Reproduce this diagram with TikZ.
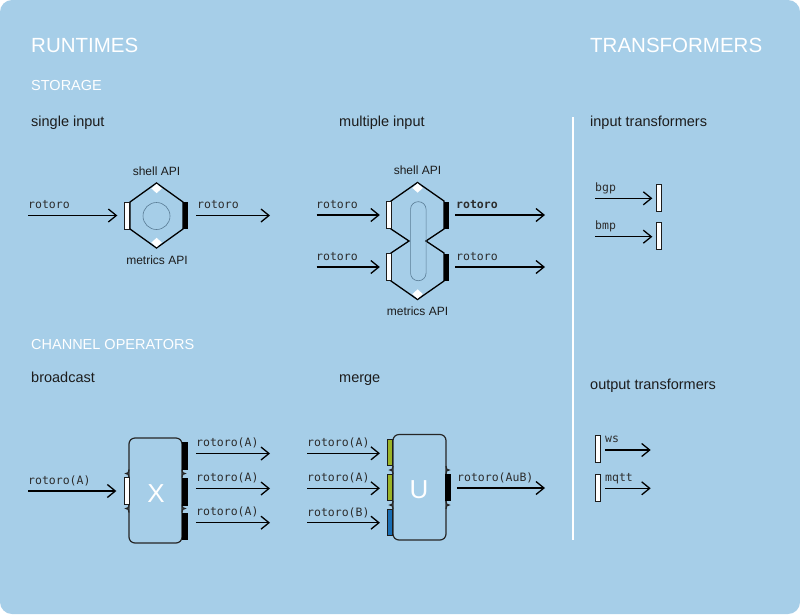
\documentclass[tikz,border=0pt]{standalone}
\usepackage{fontspec}
\setmainfont{Liberation Sans}
\setmonofont{DejaVu Sans Mono}
\usetikzlibrary{arrows.meta,shapes.geometric}
\definecolor{panel}{RGB}{166,206,232}
\definecolor{ink}{RGB}{28,28,28}
\definecolor{codeink}{RGB}{45,45,45}
\definecolor{ringline}{RGB}{90,125,150}
\definecolor{olive}{RGB}{155,180,40}
\definecolor{portblue}{RGB}{25,110,180}
\tikzset{
  arr/.style={line width=1.3pt, -{Straight Barb[length=8pt,width=13pt]}},
  inport/.style={draw=ink, fill=white, line width=0.7pt, inner sep=0pt, minimum width=5pt, minimum height=27pt},
  outport/.style={fill=black, inner sep=0pt, minimum width=5.5pt, minimum height=27pt},
  apiport/.style={diamond, fill=white, inner sep=0pt, minimum width=10.5pt, minimum height=9.5pt},
  bigtitle/.style={text=white, inner sep=0pt, anchor=base west, font=\fontsize{20.5}{24}\selectfont},
  grouptitle/.style={text=white, inner sep=0pt, anchor=base west, font=\fontsize{14.5}{17}\selectfont},
  kindtitle/.style={text=ink, inner sep=0pt, anchor=base west, font=\fontsize{14.5}{17}\selectfont},
  apitext/.style={text=ink, inner sep=0pt, anchor=base, font=\fontsize{12}{14}\selectfont},
  streamtext/.style={text=codeink, inner sep=0pt, anchor=base west, font=\ttfamily\fontsize{11.5}{13}\selectfont},
  opsign/.style={text=white, inner sep=0pt, anchor=base, font=\fontsize{26}{30}\selectfont},
  hexline/.style={draw=black, line width=1.3pt},
  opbox/.style={draw=black!85, line width=1.2pt},
}
\begin{document}
\begin{tikzpicture}[x=1pt,y=-1pt]
\useasboundingbox (0,0) rectangle (800,614);
\fill[white] (0,0) rectangle (800,614);
\fill[panel, rounded corners=12pt] (0,0) rectangle (800,614);
\draw[white, line width=2pt] (573,117) -- (573,540);

% headings
\node[bigtitle] (runtimes) at (31,52) {RUNTIMES};
\node[bigtitle] (transformers) at (590,52) {TRANSFORMERS};
\node[grouptitle] (storage) at (31,90) {STORAGE};
\node[grouptitle] (channelops) at (31,349) {CHANNEL OPERATORS};
\node[kindtitle] (single) at (31,126) {single input};
\node[kindtitle] (multiple) at (339,126) {multiple input};
\node[kindtitle] (inputtf) at (590,126) {input transformers};
\node[kindtitle] (broadcast) at (31,382) {broadcast};
\node[kindtitle] (merge) at (339,382) {merge};
\node[kindtitle] (outputtf) at (590,389) {output transformers};

% single input
\draw[hexline] (156.5,183) -- (183,202) -- (183,229) -- (156.5,248) -- (130,229) -- (130,202) -- cycle;
\node[circle, draw=ringline, line width=0.6pt, minimum size=27pt] (si-core) at (156.5,216) {};
\node[apiport] (si-shell) at (156.6,188.5) {};
\node[apiport] (si-metrics) at (156.6,242.5) {};
\node[apitext] (si-shelltext) at (156.5,175) {shell API};
\node[apitext] (si-metricstext) at (157,264) {metrics API};
\node[inport] (si-in) at (127.2,215.5) {};
\node[outport] (si-out) at (185.5,215.5) {};
\coordinate (si-src) at (28,215.5);
\coordinate (si-dst) at (270,215.5);
\path[arr, shorten >=7pt] (si-src) edge (si-in);
\path[arr, shorten <=8pt] (si-out) edge (si-dst);
\node[streamtext] (si-inlbl) at (28,208) {rotoro};
\node[streamtext] (si-outlbl) at (197,208) {rotoro};

% multiple input
\draw[hexline] (417.5,182.5) -- (444,201) -- (444,229) -- (426,241) -- (444,253) -- (444,281)
  -- (417.5,299.5) -- (391,281) -- (391,253) -- (409,241) -- (391,229) -- (391,201) -- cycle;
\node[draw=ringline, line width=0.6pt, rounded corners=7.5pt, minimum width=15.5pt, minimum height=79pt] (mi-core) at (418.3,241.2) {};
\node[apiport] (mi-shell) at (417.6,188) {};
\node[apiport] (mi-metrics) at (417.6,294) {};
\node[apitext] (mi-shelltext) at (417.5,174) {shell API};
\node[apitext] (mi-metricstext) at (417.5,315) {metrics API};
\node[inport] (mi-in1) at (388.7,215) {};
\node[inport] (mi-in2) at (388.7,267) {};
\node[outport] (mi-out1) at (446.7,215) {};
\node[outport] (mi-out2) at (446.7,267) {};
\coordinate (mi-src1) at (316.7,215);
\coordinate (mi-src2) at (316.7,267);
\coordinate (mi-dst1) at (545,215);
\coordinate (mi-dst2) at (545,267);
\path[arr, shorten >=6pt] (mi-src1) edge (mi-in1);
\path[arr, shorten >=6pt] (mi-src2) edge (mi-in2);
\path[arr, shorten <=5.7pt] (mi-out1) edge (mi-dst1);
\path[arr, shorten <=5.7pt] (mi-out2) edge (mi-dst2);
\node[streamtext] (mi-inlbl1) at (316,208) {rotoro};
\node[streamtext] (mi-inlbl2) at (316,260) {rotoro};
\node[streamtext, font=\ttfamily\bfseries\fontsize{11.5}{13}\selectfont] (mi-outlbl1) at (456,208) {rotoro};
\node[streamtext] (mi-outlbl2) at (456,260) {rotoro};

% input transformers
\node[inport, minimum width=4.6pt] (it-bar1) at (659,197.7) {};
\node[inport, minimum width=4.6pt] (it-bar2) at (659,235.7) {};
\coordinate (it-src1) at (595,198.3);
\coordinate (it-src2) at (595,236.7);
\path[arr, shorten >=4pt] (it-src1) edge (it-src1 -| it-bar1.west);
\path[arr, shorten >=4pt] (it-src2) edge (it-src2 -| it-bar2.west);
\node[streamtext] (it-bgp) at (595,191.5) {bgp};
\node[streamtext] (it-bmp) at (595,229.5) {bmp};

% broadcast
\draw[opbox, rounded corners=6pt] (129,438) rectangle (182,543);
\foreach \y in {473.5,508.5} {
  \draw[opbox] (129,\y-4) .. controls (129,\y-1) and (128,\y) .. (126,\y) .. controls (128,\y) and (129,\y+1) .. (129,\y+4);
  \draw[opbox] (182,\y-4) .. controls (182,\y-1) and (183,\y) .. (185,\y) .. controls (183,\y) and (182,\y+1) .. (182,\y+4);
}
\node[opsign] (bc-sign) at (156,502) {X};
\node[inport] (bc-in) at (126.8,491) {};
\node[outport, minimum width=6pt, minimum height=28pt] (bc-out1) at (184.7,456) {};
\node[outport, minimum width=6pt, minimum height=28pt] (bc-out2) at (184.7,491.5) {};
\node[outport, minimum width=6pt, minimum height=27pt] (bc-out3) at (184.7,526) {};
\coordinate (bc-src) at (28,491);
\coordinate (bc-dst1) at (270,453.5);
\coordinate (bc-dst2) at (270,488.5);
\coordinate (bc-dst3) at (270,522.7);
\path[arr, shorten >=7.6pt] (bc-src) edge (bc-in);
\path[arr, shorten <=8pt] (bc-out1.east |- bc-dst1) edge (bc-dst1);
\path[arr, shorten <=8pt] (bc-out2.east |- bc-dst2) edge (bc-dst2);
\path[arr, shorten <=8pt] (bc-out3.east |- bc-dst3) edge (bc-dst3);
\node[streamtext] (bc-inlbl) at (28,484) {rotoro(A)};
\node[streamtext] (bc-outlbl1) at (196,446) {rotoro(A)};
\node[streamtext] (bc-outlbl2) at (196,481) {rotoro(A)};
\node[streamtext] (bc-outlbl3) at (196,515.5) {rotoro(A)};

% merge
\draw[opbox, rounded corners=6pt] (393,434.5) rectangle (446,540);
\foreach \y in {470,505} {
  \draw[opbox] (393,\y-4) .. controls (393,\y-1) and (392,\y) .. (390,\y) .. controls (392,\y) and (393,\y+1) .. (393,\y+4);
  \draw[opbox] (446,\y-4) .. controls (446,\y-1) and (447,\y) .. (449,\y) .. controls (447,\y) and (446,\y+1) .. (446,\y+4);
}
\node[opsign] (mg-sign) at (419,498) {U};
\node[inport, fill=olive, minimum height=26.4pt] (mg-in1) at (389.8,452.5) {};
\node[inport, fill=olive, minimum height=26pt] (mg-in2) at (389.8,487.2) {};
\node[inport, fill=portblue, minimum height=26.7pt] (mg-in3) at (389.8,522.3) {};
\node[outport, minimum width=5.7pt, minimum height=26.7pt] (mg-out) at (448.2,487.7) {};
\coordinate (mg-src1) at (307,453.3);
\coordinate (mg-src2) at (307,488.3);
\coordinate (mg-src3) at (307,522.7);
\coordinate (mg-dst) at (545,488);
\path[arr, shorten >=7pt] (mg-src1) edge (mg-src1 -| mg-in1.west);
\path[arr, shorten >=7pt] (mg-src2) edge (mg-src2 -| mg-in2.west);
\path[arr, shorten >=7pt] (mg-src3) edge (mg-src3 -| mg-in3.west);
\path[arr, shorten <=5.7pt] (mg-out.east |- mg-dst) edge (mg-dst);
\node[streamtext] (mg-inlbl1) at (307,446.5) {rotoro(A)};
\node[streamtext] (mg-inlbl2) at (307,481.5) {rotoro(A)};
\node[streamtext] (mg-inlbl3) at (307,516) {rotoro(B)};
\node[streamtext] (mg-outlbl) at (457,481) {rotoro(AuB)};

% output transformers
\node[inport] (ot-bar1) at (598.2,449.3) {};
\node[inport] (ot-bar2) at (598.2,488) {};
\coordinate (ot-dst1) at (650.7,450);
\coordinate (ot-dst2) at (650.7,488.3);
\path[arr, shorten <=4.3pt] (ot-bar1.east |- ot-dst1) edge (ot-dst1);
\path[arr, shorten <=4.3pt] (ot-bar2.east |- ot-dst2) edge (ot-dst2);
\node[streamtext] (ot-ws) at (605,442.5) {ws};
\node[streamtext] (ot-mqtt) at (605,481) {mqtt};
\end{tikzpicture}
\end{document}
